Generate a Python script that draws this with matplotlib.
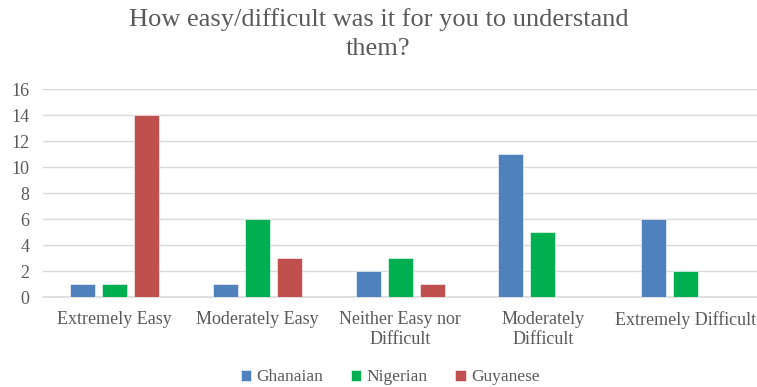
import matplotlib.pyplot as plt
import numpy as np

categories = ["Extremely Easy", "Moderately Easy", "Neither Easy nor\nDifficult",
              "Moderately\nDifficult", "Extremely Difficult"]
ghanaian = [1, 1, 2, 11, 6]
nigerian = [1, 6, 3, 5, 2]
guyanese = [14, 3, 1, 0, 0]

series = [("Ghanaian", ghanaian, "#4F81BD"),
          ("Nigerian", nigerian, "#00B050"),
          ("Guyanese", guyanese, "#C0504D")]

txt = "#595959"
serif = ['Liberation Serif', 'DejaVu Serif']
plt.rcParams['font.family'] = serif

fig = plt.figure(figsize=(7.57, 3.87), dpi=100)
ax = fig.add_axes([0.057, 0.232, 0.943, 0.538])

x = np.arange(len(categories))
w = 0.175
step = 0.224
for i, (name, vals, col) in enumerate(series):
    ax.bar(x + (i - 1) * step, vals, w, color=col, label=name,
           edgecolor="white", linewidth=0.4, zorder=3)

ax.set_xlim(-0.5, len(categories) - 0.5)
ax.set_ylim(0, 16)
ax.set_yticks(range(0, 17, 2))
ax.yaxis.grid(True, color="#d9d9d9", linewidth=1, zorder=0)
ax.set_xticks(x)
ax.set_xticklabels(categories, fontsize=13, color=txt, linespacing=1.2)
ax.tick_params(axis="y", labelsize=13, colors=txt, length=0, pad=10)
ax.tick_params(axis="x", length=0, pad=10)
for s in ["top", "right", "left"]:
    ax.spines[s].set_visible(False)
ax.spines["bottom"].set_color("#d9d9d9")
ax.spines["bottom"].set_linewidth(1.2)

fig.text(0.5, 0.98, "How easy/difficult was it for you to understand\nthem?",
         fontsize=19, color=txt, ha="center", va="top", linespacing=1.45)

ax.legend(loc="center", bbox_to_anchor=(0.486, -0.385), ncol=3,
          frameon=False, prop={"family": serif, "size": 12.5}, labelcolor=txt,
          handlelength=0.6, handleheight=0.6, handletextpad=0.3,
          columnspacing=1.6)

fig.savefig("out.png", dpi=100)
